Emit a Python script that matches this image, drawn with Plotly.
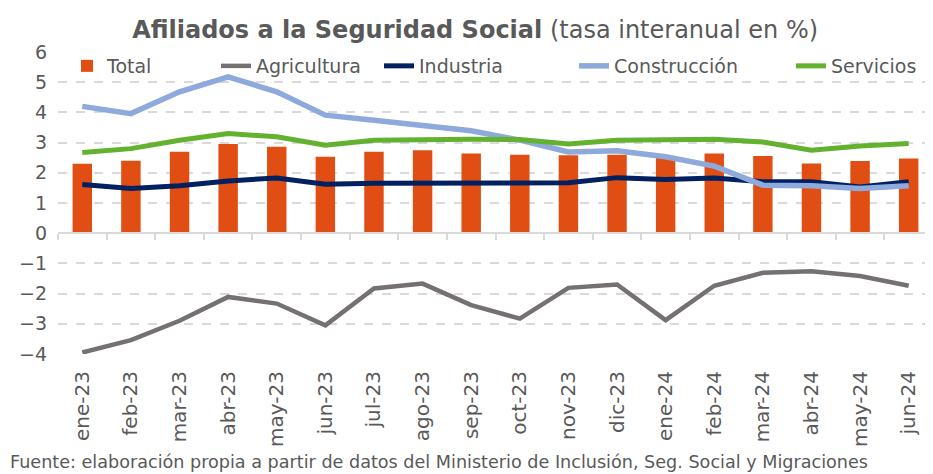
import plotly.graph_objects as go

categories = ["ene-23", "feb-23", "mar-23", "abr-23", "may-23", "jun-23", "jul-23", "ago-23", "sep-23",
              "oct-23", "nov-23", "dic-23", "ene-24", "feb-24", "mar-24", "abr-24", "may-24", "jun-24"]
total = [2.3, 2.4, 2.7, 2.95, 2.86, 2.53, 2.7, 2.75, 2.64, 2.6, 2.58, 2.6, 2.5, 2.64, 2.56, 2.31, 2.39, 2.47]
agricultura = [-3.95, -3.54, -2.9, -2.11, -2.33, -3.05, -1.83, -1.67, -2.38, -2.83, -1.81, -1.70, -2.88,
               -1.74, -1.31, -1.26, -1.42, -1.74]
industria = [1.61, 1.48, 1.57, 1.73, 1.83, 1.62, 1.65, 1.65, 1.65, 1.65, 1.67, 1.84, 1.78, 1.83, 1.7, 1.7,
             1.53, 1.7]
construccion = [4.2, 3.96, 4.68, 5.18, 4.68, 3.91, 3.74, 3.58, 3.39, 3.08, 2.69, 2.73, 2.53, 2.22, 1.59,
                1.57, 1.48, 1.57]
servicios = [2.67, 2.8, 3.08, 3.3, 3.19, 2.91, 3.08, 3.11, 3.11, 3.1, 2.95, 3.08, 3.11, 3.11, 3.02, 2.75,
             2.89, 2.97]
y_range = [-4, 6]
y_ticks = [-4, -3, -2, -1, 0, 1, 2, 3, 4, 5, 6]

FONT = "DejaVu Sans"
GRAY = "#595959"

fig = go.Figure()
fig.add_trace(go.Bar(x=categories, y=total, name="Total", marker=dict(color="#E04E14", line=dict(width=0)),
                     width=0.4, legend="legend"))
fig.add_trace(go.Scatter(x=categories, y=agricultura, name="Agricultura", mode="lines",
                         line=dict(color="#767171", width=4.5), legend="legend2"))
fig.add_trace(go.Scatter(x=categories, y=industria, name="Industria", mode="lines",
                         line=dict(color="#002060", width=5), legend="legend3"))
fig.add_trace(go.Scatter(x=categories, y=construccion, name="Construcción", mode="lines",
                         line=dict(color="#8EA9DB", width=5.5), legend="legend4"))
fig.add_trace(go.Scatter(x=categories, y=servicios, name="Servicios", mode="lines",
                         line=dict(color="#62B22F", width=5), legend="legend5"))
# helper trace for the zero axis with category tick marks
fig.add_trace(go.Scatter(x=categories, y=[None] * len(categories), xaxis="x2", showlegend=False,
                         hoverinfo="skip", mode="lines"))

zero_pos = (0 - y_range[0]) / (y_range[1] - y_range[0])


def leg(page_x):
    return dict(orientation="h", x=(page_x - 58) / 875, xanchor="left", y=1 - 14 / 302, yanchor="middle",
                font=dict(size=19, color=GRAY, family=FONT), bgcolor="rgba(255,255,255,0)",
                itemwidth=30)


fig.update_layout(
    width=925, height=466,
    margin=dict(l=50, r=0, t=44, b=120),
    paper_bgcolor="white", plot_bgcolor="white",
    font=dict(family=FONT, color=GRAY),
    title=dict(
        text="<b>Afiliados a la Seguridad Social</b> (tasa interanual en %)",
        x=0.505, xanchor="center", y=1 - 22 / 466, yanchor="middle",
        font=dict(size=24, color=GRAY, family=FONT),
    ),
    showlegend=True,
    legend=leg(67), legend2=leg(216), legend3=leg(379), legend4=leg(574), legend5=leg(791),
    bargap=0.6,
    xaxis=dict(type="category", tickangle=-90, tickfont=dict(size=20, color=GRAY), showgrid=False,
               showline=False, ticks="", ticklabelstandoff=12, range=[-0.5, len(categories) - 0.5]),
    xaxis2=dict(type="category", overlaying="x", anchor="free", position=zero_pos, side="bottom",
                showline=True, linecolor="#D9D9D9", linewidth=2, ticks="outside", ticklen=6,
                tickcolor="#D9D9D9", tickwidth=1.5, tickson="boundaries", showticklabels=False,
                showgrid=False, range=[-0.5, len(categories) - 0.5]),
    yaxis=dict(range=y_range, tickvals=y_ticks, tickfont=dict(size=19, color=GRAY),
               showgrid=True, gridcolor="#D9D9D9", griddash="dash", gridwidth=1.5,
               zeroline=False, showline=False, ticks="", ticklabelstandoff=10),
    annotations=[dict(
        text="Fuente: elaboración propia a partir de datos del Ministerio de Inclusión, Seg. Social y Migraciones",
        xref="paper", yref="paper", x=0, xshift=-50, xanchor="left", y=-108 / 302, yanchor="middle",
        showarrow=False, font=dict(size=17.6, color=GRAY, family=FONT))],
)

fig.write_html("out.html")
